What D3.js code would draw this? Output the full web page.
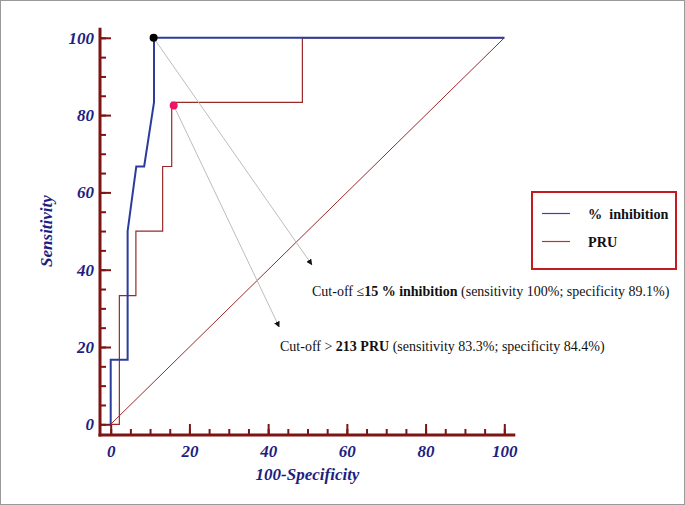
<!DOCTYPE html>
<html>
<head>
<meta charset="utf-8">
<script src="https://cdn.jsdelivr.net/npm/d3@7"></script>
<style>
  body { margin: 0; background: #fff; }
  svg { display: block; }
</style>
</head>
<body>
<script>
// ROC curves: % inhibition (blue) and PRU (red)
const inhibX = [0, 0, 4.3, 4.3, 6.5, 8.5, 11, 11, 100]
const inhibY = [0, 16.7, 16.7, 50, 66.7, 66.7, 83.3, 100, 100]

const pruX = [0, 2.2, 2.2, 6.4, 6.4, 13.2, 13.2, 15.5, 15.5, 48.7, 48.7, 100]
const pruY = [0, 0, 33.3, 33.3, 50, 50, 66.7, 66.7, 83.3, 83.3, 100, 100]

// cut-off points
const cutInhib = [10.9, 100]
const cutPru = [16, 82.5]

const majorTicks = [0, 20, 40, 60, 80, 100]
const minorTicks = d3.range(0, 101, 5)

const legendNames = ["%  inhibition", "PRU"]

const W = 685, H = 505
const blue = "#2c3c9c", red = "#9a2a2a", axisCol = "#7e1414", labelCol = "#1e1e82"

let svg = d3.select("body").append("svg")
  .attr("width", W)
  .attr("height", H)

svg.append("rect")
  .attr("x", 0.5).attr("y", 0.5)
  .attr("width", W - 1).attr("height", H - 1)
  .attr("fill", "#fff")
  .attr("stroke", "#9a9a9a")

let x = d3.scaleLinear().domain([0, 100]).range([110.7, 504.3])
let y = d3.scaleLinear().domain([0, 100]).range([424.3, 37.8])
const axX = 100, axY = 435

svg.append("defs").append("marker")
  .attr("id", "arrow")
  .attr("viewBox", "0 0 10 10")
  .attr("refX", 9).attr("refY", 5)
  .attr("markerWidth", 6).attr("markerHeight", 6)
  .attr("markerUnits", "userSpaceOnUse")
  .attr("orient", "auto")
  .append("path")
    .attr("d", "M0,0L10,5L0,10z")
    .attr("fill", "#111")

// axes
function styleAxis(g) {
  g.select(".domain").remove()
  g.selectAll(".tick line").attr("stroke", axisCol).attr("stroke-width", 2)
  g.selectAll("text")
    .attr("fill", labelCol)
    .style("font-family", "'Liberation Serif', 'Times New Roman', serif")
    .style("font-weight", "bold")
    .style("font-style", "italic")
    .style("font-size", "17px")
}

svg.append("g")
  .attr("transform", `translate(${axX},0)`)
  .call(d3.axisLeft(y).tickValues(minorTicks).tickSize(-6).tickFormat(""))
  .call(styleAxis)
svg.append("g")
  .attr("transform", `translate(${axX},0)`)
  .call(d3.axisLeft(y).tickValues(majorTicks).tickSize(-11).tickPadding(6))
  .call(styleAxis)

svg.append("g")
  .attr("transform", `translate(0,${axY})`)
  .call(d3.axisBottom(x).tickValues(minorTicks).tickSize(-6).tickFormat(""))
  .call(styleAxis)
svg.append("g")
  .attr("transform", `translate(0,${axY})`)
  .call(d3.axisBottom(x).tickValues(majorTicks).tickSize(-11).tickPadding(10))
  .call(styleAxis)

svg.append("line")
  .attr("x1", axX).attr("x2", axX)
  .attr("y1", y(100) - 10).attr("y2", axY + 1.5)
  .attr("stroke", axisCol).attr("stroke-width", 3)
svg.append("line")
  .attr("x1", axX - 1.5).attr("x2", x(100) + 11)
  .attr("y1", axY).attr("y2", axY)
  .attr("stroke", axisCol).attr("stroke-width", 3)

// axis titles
svg.append("text")
  .attr("x", x(50)).attr("y", 480)
  .attr("text-anchor", "middle")
  .attr("fill", labelCol)
  .style("font-family", "'Liberation Serif', serif")
  .style("font-weight", "bold").style("font-style", "italic")
  .style("font-size", "17px")
  .text("100-Specificity")

svg.append("text")
  .attr("transform", `translate(52,${y(50)}) rotate(-90)`)
  .attr("text-anchor", "middle")
  .attr("fill", labelCol)
  .style("font-family", "'Liberation Serif', serif")
  .style("font-weight", "bold").style("font-style", "italic")
  .style("font-size", "17px")
  .text("Sensitivity")

// diagonal
svg.append("line")
  .attr("x1", x(0)).attr("y1", y(0))
  .attr("x2", x(100)).attr("y2", y(100))
  .attr("stroke", red).attr("stroke-width", 1)

let line = d3.line().x(d => x(d[0])).y(d => y(d[1]))

svg.append("path")
  .datum(d3.zip(pruX, pruY))
  .attr("d", line)
  .attr("fill", "none")
  .attr("stroke", red)
  .attr("stroke-width", 1.2)

svg.append("path")
  .datum(d3.zip(inhibX, inhibY))
  .attr("d", line)
  .attr("fill", "none")
  .attr("stroke", blue)
  .attr("stroke-width", 2)

// annotation pointers
const notes = [
  { from: cutInhib, to: [51.1, 41.3] },
  { from: cutPru, to: [42.8, 25.2] }
]
svg.selectAll(".pointer")
  .data(notes)
  .enter()
  .append("line")
    .attr("class", "pointer")
    .attr("x1", d => x(d.from[0])).attr("y1", d => y(d.from[1]))
    .attr("x2", d => x(d.to[0])).attr("y2", d => y(d.to[1]))
    .attr("stroke", "#bdbdbd")
    .attr("stroke-width", 1)
    .attr("marker-end", "url(#arrow)")

svg.append("circle")
  .attr("cx", x(cutInhib[0])).attr("cy", y(cutInhib[1]))
  .attr("r", 4).attr("fill", "#000")
svg.append("circle")
  .attr("cx", x(cutPru[0])).attr("cy", y(cutPru[1]))
  .attr("r", 4).attr("fill", "#ee1466")

// annotation texts
let t1 = svg.append("text")
  .attr("x", 312).attr("y", 296)
  .style("font-family", "'Liberation Serif', serif")
  .style("font-size", "14px")
  .attr("fill", "#111")
t1.append("tspan").text("Cut-off \u2264")
t1.append("tspan").style("font-weight", "bold").text("15 % inhibition")
t1.append("tspan").text(" (sensitivity 100%; specificity 89.1%)")

let t2 = svg.append("text")
  .attr("x", 280).attr("y", 351)
  .style("font-family", "'Liberation Serif', serif")
  .style("font-size", "14px")
  .attr("fill", "#111")
t2.append("tspan").text("Cut-off > ")
t2.append("tspan").style("font-weight", "bold").text("213  PRU")
t2.append("tspan").text(" (sensitivity 83.3%; specificity 84.4%)")

// legend
let legend = svg.append("g")
svg.append("rect")
  .attr("x", 532).attr("y", 192)
  .attr("width", 144).attr("height", 77)
  .attr("fill", "none")
  .attr("stroke", "#c41a22")
  .attr("stroke-width", 2)

let items = legend.selectAll("g")
  .data(legendNames)
  .enter()
  .append("g")
    .attr("transform", (d, i) => `translate(542,${213.5 + i * 28})`)
items.append("line")
  .attr("x1", 0).attr("x2", 28)
  .attr("stroke", (d, i) => i === 0 ? "#3a44b0" : "#c43030")
  .attr("stroke-width", 1.2)
items.append("text")
  .attr("x", 46).attr("y", 5)
  .attr("xml:space", "preserve")
  .style("white-space", "pre")
  .style("font-family", "'Liberation Serif', serif")
  .style("font-weight", "bold")
  .style("font-size", "14.2px")
  .attr("fill", "#111")
  .text(d => d)
</script>
</body>
</html>
